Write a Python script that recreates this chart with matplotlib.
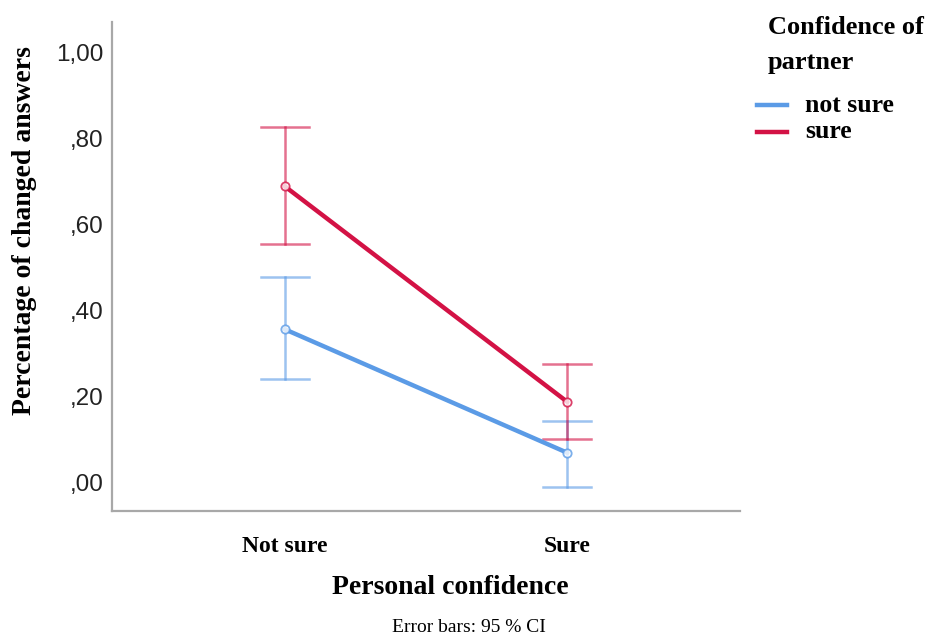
#!/usr/bin/env python3
"""Interaction plot: changed answers by personal and partner confidence."""

import matplotlib.pyplot as plt
from matplotlib.lines import Line2D

categories = ["Not sure", "Sure"]
partner_groups = ["not sure", "sure"]

# mean proportion of changed answers with 95 % CI bounds
means = {
    "not sure": [0.357, 0.070],
    "sure": [0.689, 0.188],
}
ci_low = {
    "not sure": [0.241, -0.009],
    "sure": [0.555, 0.102],
}
ci_high = {
    "not sure": [0.478, 0.144],
    "sure": [0.826, 0.276],
}

y_ticks = [0.0, 0.2, 0.4, 0.6, 0.8, 1.0]
y_tick_labels = [",00", ",20", ",40", ",60", ",80", "1,00"]

colors = {"not sure": "#5b9be6", "sure": "#d31245"}

SERIF = "Liberation Serif"
SANS = "Liberation Sans"


def main() -> None:
    fig = plt.figure(figsize=(9.3, 6.35), dpi=100)
    ax = fig.add_axes([112 / 930, 1 - 511 / 635, (740 - 112) / 930, (511 - 22) / 635])

    x = list(range(len(categories)))
    cap = 0.085
    for g in partner_groups:
        c = colors[g]
        ax.plot(x, means[g], color=c, lw=3.2, solid_capstyle="round", zorder=3)
        for xi, lo, hi in zip(x, ci_low[g], ci_high[g]):
            ax.plot([xi, xi], [lo, hi], color=c, lw=1.8, alpha=0.6, zorder=2)
            ax.plot([xi - cap, xi + cap], [lo, lo], color=c, lw=1.8, alpha=0.6, zorder=2)
            ax.plot([xi - cap, xi + cap], [hi, hi], color=c, lw=1.8, alpha=0.6, zorder=2)
        ax.plot(x, means[g], ls="none", marker="o", ms=6, mfc="white", mec=c,
                mew=1.3, alpha=0.8, zorder=4)

    ax.set_xlim(-0.61, 1.61)
    ax.set_ylim(-0.065, 1.07)
    ax.set_yticks(y_ticks)
    ax.set_yticklabels(y_tick_labels, fontfamily=SANS, fontsize=17.5, color="#222222")
    ax.set_xticks(x)
    ax.set_xticklabels(categories, fontfamily=SERIF, fontweight="bold", fontsize=17)
    ax.tick_params(axis="both", length=0)
    ax.tick_params(axis="y", pad=6)
    ax.tick_params(axis="x", pad=18)

    for side in ("top", "right"):
        ax.spines[side].set_visible(False)
    for side in ("left", "bottom"):
        ax.spines[side].set_color("#a8a8a8")
        ax.spines[side].set_linewidth(1.6)

    fig.text(25 / 930, 1 - 231 / 635, "Percentage of changed answers", rotation=90,
             ha="center", va="center", fontfamily=SERIF, fontweight="bold", fontsize=20)
    fig.text(450 / 930, 1 - 588 / 635, "Personal confidence", ha="center", va="center",
             fontfamily=SERIF, fontweight="bold", fontsize=20)
    fig.text(469 / 930, 1 - 627 / 635, "Error bars: 95 % CI", ha="center", va="center",
             fontfamily=SERIF, fontsize=14)

    # legend drawn by hand so the title can sit to the right of the handles
    fig.text(768 / 930, 1 - 28 / 635, "Confidence of", ha="left", va="center",
             fontfamily=SERIF, fontweight="bold", fontsize=19)
    fig.text(768 / 930, 1 - 62 / 635, "partner", ha="left", va="center",
             fontfamily=SERIF, fontweight="bold", fontsize=19)
    for i, g in enumerate(partner_groups):
        yy = 1 - (105 + 27 * i) / 635
        fig.add_artist(Line2D([757 / 930, 787 / 930], [yy, yy], color=colors[g], lw=3.2,
                              transform=fig.transFigure))
        fig.text(805 / 930, yy, g, ha="left", va="center", fontfamily=SERIF,
                 fontweight="bold", fontsize=18.5)

    fig.savefig("out.png", dpi=100, facecolor="white")
    plt.close(fig)


if __name__ == "__main__":
    main()
